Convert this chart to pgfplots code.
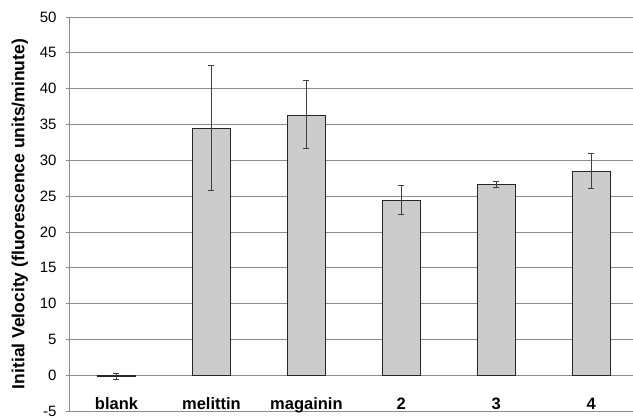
\documentclass[border=0pt]{standalone}
\usepackage{fontspec}
\setmainfont{Liberation Sans}
\usepackage{pgfplots}
\usepackage{pgfplotstable}
\pgfplotsset{compat=1.18}
\definecolor{barfill}{HTML}{CCCCCC}
\definecolor{gridc}{HTML}{8C8C8C}
\pgfplotstableread{
x y ep em
0 -0.2 0.45 0.45
1 34.5 8.8 8.7
2 36.3 4.8 4.6
3 24.4 2.1 2.0
4 26.6 0.4 0.4
5 28.5 2.4 2.4
}\datatable
\begin{document}
\begin{tikzpicture}
\begin{axis}[
  name=ax,
  scale only axis, width=564pt, height=394pt,
  xmin=-0.5, xmax=5.44, ymin=-5, ymax=50,
  axis x line*=middle, axis y line*=left,
  hide obscured x ticks=false, hide obscured y ticks=false,
  x axis line style={gridc, line width=0.8pt},
  y axis line style={gridc, line width=0.8pt},
  ytick={-5,0,...,50},
  ymajorgrids, grid style={gridc, line width=0.8pt},
  major y tick style={draw=gridc, line width=0.8pt},
  ytick align=outside, major tick length=3pt,
  yticklabel style={font=\fontsize{15}{17}\selectfont, xshift=-6pt},
  /pgf/number format/assume math mode=true,
  xtick={0,...,5},
  xticklabels={blank,melittin,magainin,2,3,4},
  xticklabel style={font=\fontsize{16.5}{18}\selectfont\bfseries, text height=12pt, text depth=3pt, yshift=-19pt},
  major x tick style={draw=none},
  extra x ticks={0.5,1.5,2.5,3.5,4.5},
  extra x tick labels={},
  extra x tick style={grid=none, tick style={draw=gridc, line width=0.8pt}, major tick length=5pt, tick align=outside},
  ylabel={\bfseries Initial Velocity (fluorescence units/minute)},
  ylabel style={font=\fontsize{17.5}{19}\selectfont, yshift=5pt},
]
\addplot[ybar, bar width=38pt, fill=barfill, draw=black!85, line width=0.8pt,
  error bars/.cd, y dir=both, y explicit,
  error bar style={black!75, line width=0.8pt},
  error mark options={rotate=90, mark size=3pt, black!75, line width=0.8pt}]
  table[x=x, y=y, y error plus=ep, y error minus=em] {\datatable};
\end{axis}
\pgfresetboundingbox
\path ([xshift=-69pt,yshift=-7pt]ax.south west) rectangle ([yshift=17pt]ax.north east);
\end{tikzpicture}
\end{document}
